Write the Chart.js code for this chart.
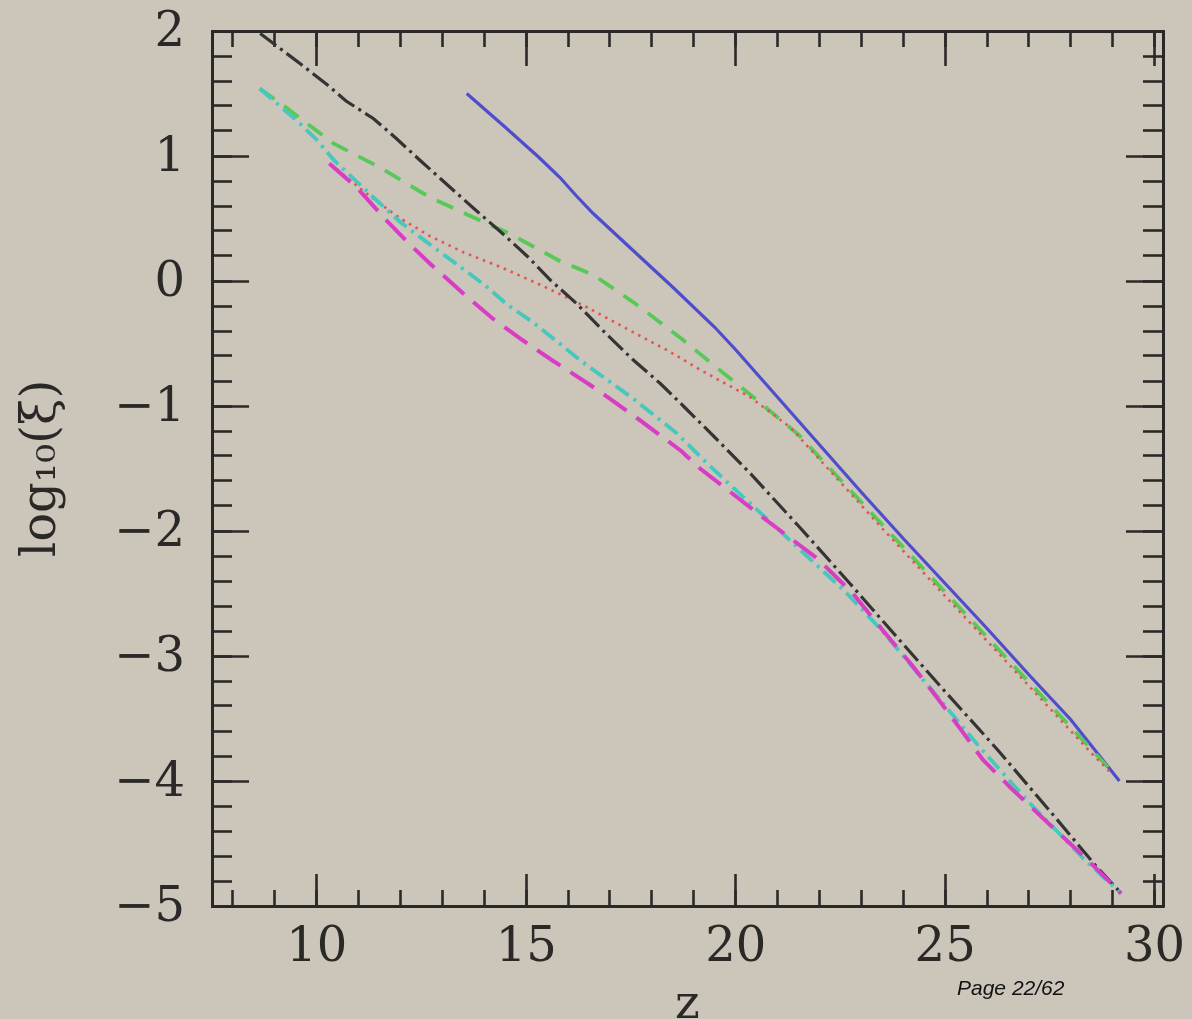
<!DOCTYPE html>
<html>
<head>
<meta charset="utf-8">
<script src="https://cdn.jsdelivr.net/npm/chart.js@4.4.1/dist/chart.umd.min.js"></script>
<style>
  html, body { margin: 0; padding: 0; background: #ccc5ba; }
  #wrap { width: 1192px; height: 1019px; position: relative; overflow: hidden; }
  canvas { display: block; }
</style>
</head>
<body>
<div id="wrap"><canvas id="c" width="1192" height="1019"></canvas></div>
<script>
// ---------------- data ----------------
const zBlue     = [13.58, 14.5, 15.3, 15.8, 16.2, 16.6, 17.5, 18.5, 19.5, 20.0, 21.0, 22.0, 23.0, 24.0, 25.0, 26.0, 27.0, 28.0, 29.16];
const logXiBlue = [1.50, 1.23, 0.99, 0.83, 0.68, 0.54, 0.26, -0.05, -0.37, -0.55, -0.93, -1.31, -1.69, -2.06, -2.42, -2.78, -3.15, -3.51, -4.00];

const zGreen     = [8.64, 9.3, 10.4, 11.5, 12.7, 13.6, 14.6, 15.8, 16.6, 17.6, 18.7, 19.5, 20.5, 21.5, 22.5, 23.5, 24.5, 25.5, 26.5, 27.5, 28.5, 29.0];
const logXiGreen = [1.54, 1.38, 1.10, 0.91, 0.67, 0.53, 0.38, 0.16, 0.05, -0.18, -0.46, -0.68, -0.95, -1.23, -1.59, -1.95, -2.31, -2.67, -3.03, -3.39, -3.75, -3.93];

const zRed     = [10.35, 11.0, 11.5, 12.0, 12.7, 13.5, 14.4, 15.4, 16.45, 17.5, 18.4, 19.15, 20.35, 21.3, 22.5, 23.5, 24.5, 25.5, 26.5, 27.5, 28.5, 29.0];
const logXiRed = [0.93, 0.75, 0.62, 0.50, 0.36, 0.23, 0.11, -0.04, -0.21, -0.40, -0.56, -0.71, -0.93, -1.17, -1.61, -1.98, -2.34, -2.70, -3.06, -3.42, -3.78, -3.95];

const zBlack     = [8.65, 9.6, 10.25, 10.7, 11.35, 11.9, 12.45, 12.95, 13.75, 14.4, 15.05, 15.6, 16.2, 16.9, 17.55, 18.2, 18.75, 19.5, 20.35, 21.5, 22.7, 23.8, 24.96, 26.25, 27.5, 28.6, 29.15];
const logXiBlack = [1.98, 1.74, 1.57, 1.44, 1.30, 1.14, 0.97, 0.82, 0.58, 0.39, 0.19, 0.00, -0.18, -0.42, -0.63, -0.82, -1.00, -1.25, -1.54, -1.96, -2.41, -2.83, -3.27, -3.75, -4.24, -4.68, -4.88];

const zCyan     = [8.64, 9.5, 10.0, 10.4, 11.35, 12.0, 12.75, 13.4, 14.0, 14.55, 15.2, 16.35, 17.55, 18.6, 19.2, 19.8, 20.8, 21.7, 22.6, 23.5, 24.6, 25.8, 27.0, 28.3, 29.2];
const logXiCyan = [1.54, 1.29, 1.13, 0.97, 0.67, 0.47, 0.28, 0.12, -0.03, -0.19, -0.34, -0.65, -0.94, -1.22, -1.42, -1.61, -1.92, -2.20, -2.48, -2.80, -3.24, -3.72, -4.17, -4.62, -4.90];

const zMagenta     = [10.3, 10.95, 11.65, 12.2, 12.7, 13.6, 14.2, 14.9, 15.6, 16.7, 17.7, 18.7, 19.15, 19.65, 20.8, 21.95, 22.8, 23.5, 24.2, 24.8, 25.4, 25.9, 26.55, 27.5, 28.4, 29.2];
const logXiMagenta = [0.94, 0.75, 0.49, 0.30, 0.14, -0.13, -0.30, -0.47, -0.63, -0.87, -1.11, -1.36, -1.50, -1.63, -1.93, -2.22, -2.50, -2.79, -3.07, -3.33, -3.60, -3.83, -4.05, -4.35, -4.63, -4.90];

// ---------------- ticks ----------------
const xMajorTicks = [10, 15, 20, 25, 30];
const yMajorTicks = [-5, -4, -3, -2, -1, 0, 1, 2];
const xMinorTicks = [8, 9, 10, 11, 12, 13, 14, 15, 16, 17, 18, 19, 20, 21, 22, 23, 24, 25, 26, 27, 28, 29, 30];
const yMinorTicks = [];
for (let i = -25; i <= 10; i++) yMinorTicks.push(Math.round(i * 2) / 10);

const X_MIN = 7.5, X_MAX = 30.2, Y_MIN = -5, Y_MAX = 2;

// ---------------- chart ----------------
const pts = (xs, ys) => xs.map((x, i) => ({ x: x, y: ys[i] }));
const AXIS = '#2b2928';
const FONT = 'DejaVu Serif';

function ds(label, xs, ys, color, dash, width, order) {
  return {
    label, data: pts(xs, ys), borderColor: color, borderWidth: width,
    borderDash: dash, pointRadius: 0, tension: 0, fill: false, order,
    borderCapStyle: 'butt'
  };
}

function tickSetter(values) {
  return s => { s.ticks = values.map(v => ({ value: v })); };
}

function scaleBase(axis, position, weight, ticksArr, tickLen, showLabels, size) {
  const isX = axis === 'x';
  return {
    type: 'linear', axis, position, weight,
    min: isX ? X_MIN : Y_MIN, max: isX ? X_MAX : Y_MAX,
    afterBuildTicks: tickSetter(ticksArr),
    afterFit: s => {
      if (isX) s.height = size; else s.width = size;
      s.paddingTop = 0; s.paddingBottom = 0; s.paddingLeft = 0; s.paddingRight = 0;
    },
    grid: { display: true, drawOnChartArea: false, drawTicks: true, tickLength: tickLen,
            tickWidth: 2.6, tickColor: AXIS },
    border: { display: true, color: AXIS, width: 3 },
    ticks: { display: !!showLabels, autoSkip: false, maxRotation: 0, minRotation: 0,
             includeBounds: false }
  };
}

const xMain = scaleBase('x', 'bottom', 1, xMajorTicks, -32, true, 113);
xMain.ticks.padding = 46;
xMain.ticks.color = AXIS;
xMain.ticks.font = { family: FONT, size: 48 };
xMain.title = { display: true, text: 'z', color: AXIS, font: { family: FONT, size: 47 },
                padding: { top: 0, bottom: -15 } };

const yMain = scaleBase('y', 'left', 1, yMajorTicks, -37, true, 212);
yMain.ticks.padding = 64;
yMain.ticks.labelOffset = 3;
yMain.ticks.color = AXIS;
yMain.ticks.font = { family: FONT, size: 48 };
yMain.ticks.callback = v => (v < 0 ? '\u2212' + Math.abs(v) : String(v));
yMain.title = { display: true, text: 'log\u2081\u2080(\u03BE)', color: AXIS, font: { family: FONT, size: 48 },
                padding: { top: 14, bottom: 0 } };

const config = {
  type: 'line',
  data: {
    datasets: [
      ds('blue solid', zBlue, logXiBlue, 'rgb(78,78,205)', [], 3.2, 6),
      ds('green dashed', zGreen, logXiGreen, 'rgb(88,200,88)', [18, 12], 3.8, 5),
      ds('red dotted', zRed, logXiRed, 'rgb(226,84,84)', [2.5, 5], 2.6, 4),
      ds('black dash-dot', zBlack, logXiBlack, 'rgb(52,52,52)', [20, 5, 3, 5], 3.2, 3),
      ds('cyan dash-dot', zCyan, logXiCyan, 'rgb(70,200,188)', [16, 6, 3, 6], 3.8, 2),
      ds('magenta long dash', zMagenta, logXiMagenta, 'rgb(216,62,196)', [28, 12], 4, 1)
    ]
  },
  options: {
    responsive: false,
    animation: false,
    devicePixelRatio: 1,
    layout: { padding: { left: 0, top: 31, right: 29, bottom: 0 } },
    plugins: { legend: { display: false }, tooltip: { enabled: false }, title: { display: false } },
    scales: {
      x: xMain,
      xMinor: scaleBase('x', 'bottom', 0, xMinorTicks, -16, false, 0),
      xTop: scaleBase('x', 'top', 1, xMajorTicks, -35, false, 0),
      xTopMinor: scaleBase('x', 'top', 0, xMinorTicks, -16, false, 0),
      y: yMain,
      yMinor: scaleBase('y', 'left', 0, yMinorTicks, -20, false, 0),
      yRight: scaleBase('y', 'right', 1, yMajorTicks, -37, false, 0),
      yRightMinor: scaleBase('y', 'right', 0, yMinorTicks, -20, false, 0)
    }
  },
  plugins: [{
    id: 'pageNote',
    afterDraw(chart) {
      const ctx = chart.ctx;
      ctx.save();
      ctx.fillStyle = '#111';
      ctx.font = 'italic 21px "Liberation Sans", Arial, sans-serif';
      ctx.textAlign = 'left';
      ctx.textBaseline = 'alphabetic';
      ctx.fillText('Page 22/62', 957, 995);
      ctx.restore();
    }
  }]
};
['xMinor', 'xTopMinor', 'yMinor', 'yRightMinor'].forEach(k => { config.options.scales[k].border.display = false; });

new Chart(document.getElementById('c'), config);
</script>
</body>
</html>
